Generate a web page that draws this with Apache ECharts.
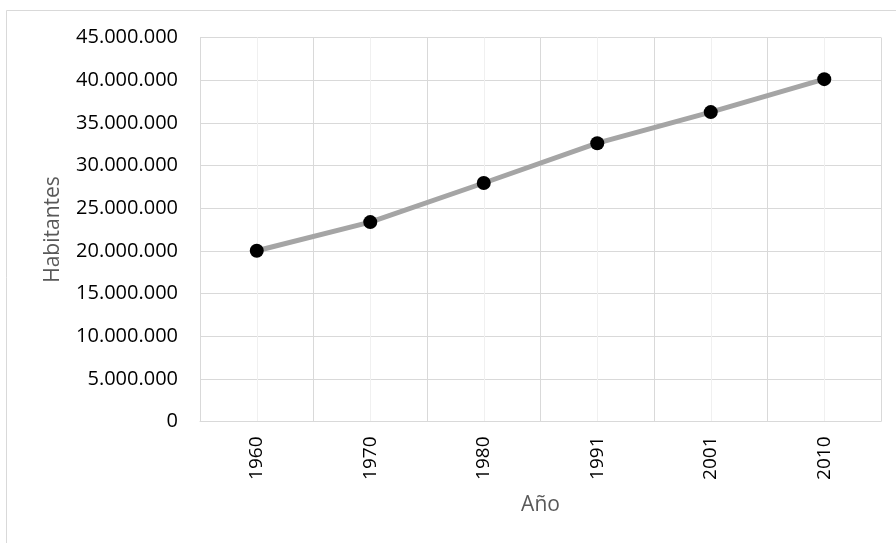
<!DOCTYPE html>
<html>
<head>
<meta charset="utf-8">
<script src="https://cdn.jsdelivr.net/npm/echarts@6/dist/echarts.min.js"></script>
<style>
  html, body { margin: 0; padding: 0; background: #fff; }
  #chart { width: 896px; height: 543px; }
</style>
</head>
<body>
<div id="chart"></div>
<script>
// Population census years and counts
const years = ['1960', '1970', '1980', '1991', '2001', '2010'];
const habitantes = [20013793, 23364431, 27949480, 32615528, 36260130, 40117096];

// Value-axis ticks
const yMin = 0;
const yMax = 45000000;
const yStep = 5000000;

const fmt = v => String(v).replace(/\B(?=(\d{3})+(?!\d))/g, '.');

const chart = echarts.init(document.getElementById('chart'), null, { renderer: 'canvas' });

chart.setOption({
  backgroundColor: '#ffffff',
  animation: false,
  graphic: [{
    type: 'rect',
    z: -10,
    shape: { x: 6.5, y: 10.5, width: 1000, height: 1000 },
    style: { fill: 'none', stroke: '#d9d9d9', lineWidth: 1 }
  }],
  grid: { left: 200, right: 15, top: 37.5, bottom: 121.5, containLabel: false },
  xAxis: [{
    type: 'category',
    data: years,
    boundaryGap: true,
    name: 'Año',
    nameLocation: 'middle',
    nameGap: 73,
    nameTextStyle: { fontFamily: 'Open Sans', fontSize: 21, color: '#595959' },
    axisLine: { show: true, lineStyle: { color: '#d9d9d9', width: 1 } },
    axisTick: { show: false },
    splitLine: { show: false },
    axisLabel: {
      rotate: 90,
      margin: 15,
      fontFamily: 'Open Sans',
      fontSize: 19,
      color: '#000000'
    }
  }, {
    // Gridline layer: boundaries between years plus lighter centre lines
    type: 'value',
    position: 'bottom',
    min: 0,
    max: years.length,
    interval: 1,
    axisLine: { show: false },
    axisTick: { show: false },
    axisLabel: { show: false },
    splitLine: { show: true, lineStyle: { color: '#d9d9d9', width: 1 } },
    minorTick: { show: false, splitNumber: 2 },
    minorSplitLine: { show: true, lineStyle: { color: '#f0f0f0', width: 1 } }
  }],
  yAxis: {
    type: 'value',
    min: yMin,
    max: yMax,
    interval: yStep,
    name: 'Habitantes',
    nameLocation: 'middle',
    nameRotate: 90,
    nameGap: 136,
    nameTextStyle: { fontFamily: 'Open Sans', fontSize: 21, color: '#595959' },
    axisLine: { show: false },
    axisTick: { show: false },
    splitLine: { show: true, lineStyle: { color: '#d9d9d9', width: 1 } },
    axisLabel: {
      margin: 22,
      fontFamily: 'Open Sans',
      fontSize: 20,
      color: '#000000',
      formatter: v => fmt(v)
    }
  },
  series: [{
    type: 'line',
    xAxisIndex: 0,
    data: habitantes,
    symbol: 'circle',
    symbolSize: 14,
    itemStyle: { color: '#000000' },
    lineStyle: { color: '#a5a5a5', width: 5, cap: 'round' },
    z: 5
  }]
});
</script>
</body>
</html>
